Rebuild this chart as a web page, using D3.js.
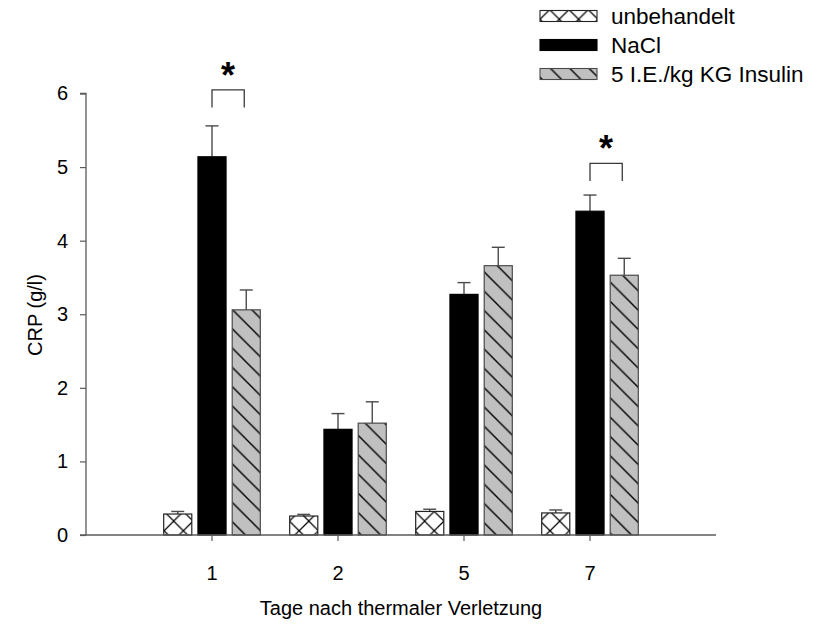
<!DOCTYPE html>
<html>
<head>
<meta charset="utf-8">
<script src="https://cdn.jsdelivr.net/npm/d3@7"></script>
<style>
  html, body { margin: 0; padding: 0; background: #fff; }
  svg { display: block; font-family: "Liberation Sans", Arial, sans-serif; }
</style>
</head>
<body>
<svg id="chart" width="819" height="625"></svg>
<script>
// Days after thermal injury
const days = ["1", "2", "5", "7"];
const seriesNames = ["unbehandelt", "NaCl", "5 I.E./kg KG Insulin"];
// CRP means (g/l) per series, one value per day
const untreated = [0.285, 0.258, 0.32, 0.30];
const nacl = [5.14, 1.436, 3.27, 4.40];
const insulin = [3.06, 1.52, 3.66, 3.53];
// Upper end of the error bars (mean + SEM)
const untreatedErr = [0.32, 0.28, 0.35, 0.34];
const naclErr = [5.56, 1.65, 3.43, 4.62];
const insulinErr = [3.33, 1.81, 3.91, 3.76];
const yTicks = [0, 1, 2, 3, 4, 5, 6];
// Significance brackets: day and bracket level
const sigDays = ["1", "7"];
const sigLevels = [6.05, 5.05];

const values = [untreated, nacl, insulin];
const errs = [untreatedErr, naclErr, insulinErr];

const svg = d3.select("#chart");
const axisColor = "#5a5a5a";
const fontSize = "20px";
const legendFontSize = "22.5px";

// Patterns
const defs = svg.append("defs");
const cross = defs.append("pattern").attr("id", "pat-cross")
  .attr("patternUnits", "userSpaceOnUse").attr("width", 19.3).attr("height", 19.3);
cross.append("rect").attr("width", 19.3).attr("height", 19.3).attr("fill", "#fff");
cross.append("path").attr("d", "M0,0L19.3,19.3M19.3,0L0,19.3")
  .attr("stroke", "#000").attr("stroke-width", 1.2);

const hatch = defs.append("pattern").attr("id", "pat-hatch")
  .attr("patternUnits", "userSpaceOnUse").attr("width", 19.3).attr("height", 19.3);
hatch.append("rect").attr("width", 19.3).attr("height", 19.3).attr("fill", "#c0c0c0");
hatch.append("path").attr("d", "M0,0L19.3,19.3M-2,17.3L2,21.3M17.3,-2L21.3,2")
  .attr("stroke", "#000").attr("stroke-width", 1.4);

const fills = ["url(#pat-cross)", "#000", "url(#pat-hatch)"];
const strokes = ["#222", "#000", "#4a4a4a"];

// Scales
const x = d3.scaleBand().domain(days).range([86, 716]).paddingInner(0).paddingOuter(0.5);
const xs = d3.scaleBand().domain(seriesNames).range([-48.3, 48.3]).paddingInner(0.18);
const y = d3.scaleLinear().domain([0, 6]).range([535, 93.5]);

// Bars
seriesNames.forEach((name, si) => {
  const g = svg.append("g");
  const rows = days.map((d, i) => ({ d, v: values[si][i], e: errs[si][i] }));
  const left = r => x(r.d) + x.bandwidth() / 2 + xs(name);
  const mid = r => left(r) + xs.bandwidth() / 2;
  // error bars (upper only)
  g.selectAll("line.stem").data(rows).join("line")
    .attr("x1", mid).attr("x2", mid)
    .attr("y1", r => y(r.v)).attr("y2", r => y(r.e))
    .attr("stroke", "#4a4a4a").attr("stroke-width", 1.4);
  g.selectAll("line.cap").data(rows).join("line")
    .attr("x1", r => mid(r) - 6.5).attr("x2", r => mid(r) + 6.5)
    .attr("y1", r => y(r.e)).attr("y2", r => y(r.e))
    .attr("stroke", "#4a4a4a").attr("stroke-width", 1.4);
  g.selectAll("rect").data(rows).join("rect")
    .attr("x", left).attr("width", xs.bandwidth())
    .attr("y", r => y(r.v)).attr("height", r => y(0) - y(r.v))
    .attr("fill", fills[si]).attr("stroke", strokes[si]).attr("stroke-width", 1.2);
});

// Axes
const yAxis = svg.append("g").attr("transform", "translate(86,0)")
  .call(d3.axisLeft(y).tickValues(yTicks).tickSize(6).tickPadding(12).tickFormat(d3.format("d")));
const xAxis = svg.append("g").attr("transform", "translate(0,535)")
  .call(d3.axisBottom(x).tickSize(6).tickSizeOuter(0).tickPadding(25));
[yAxis, xAxis].forEach(a => {
  a.attr("font-size", null).attr("font-family", null);
  a.select(".domain").attr("stroke", axisColor).attr("stroke-width", 1.3);
  a.selectAll(".tick line").attr("stroke", axisColor).attr("stroke-width", 1.2);
  a.selectAll(".tick text").attr("fill", "#000").style("font-size", fontSize)
    .style("font-family", "'Liberation Sans', Arial, sans-serif");
});
// y axis line from the top tick down to the baseline; x axis line reaches a bit left of it
yAxis.select(".domain").attr("d", `M-6,${y(6)}H0V${y(0)}`);
xAxis.select(".domain").attr("d", "M80,0H716");

// Axis titles
svg.append("text").attr("x", 401).attr("y", 615).attr("text-anchor", "middle")
  .style("font-size", fontSize).text("Tage nach thermaler Verletzung");
svg.append("text").attr("transform", "translate(42,315) rotate(-90)").attr("text-anchor", "middle")
  .style("font-size", fontSize).text("CRP (g/l)");

// Significance markers
sigDays.forEach((d, i) => {
  const x1 = x(d) + x.bandwidth() / 2 + xs("NaCl") + xs.bandwidth() / 2;
  const x2 = x(d) + x.bandwidth() / 2 + xs(seriesNames[2]) + xs.bandwidth() / 2 - 2;
  const top = y(sigLevels[i]);
  const bot = y(sigLevels[i] - 0.24);
  svg.append("path").attr("d", `M${x1},${bot}V${top}H${x2}V${bot}`)
    .attr("fill", "none").attr("stroke", "#3a3a3a").attr("stroke-width", 1.3);
  svg.append("text").attr("x", (x1 + x2) / 2).attr("y", top - 2)
    .attr("text-anchor", "middle").style("font-size", "36px").style("font-weight", "bold")
    .text("*");
});

// Legend
const legend = svg.append("g").attr("transform", "translate(540,0)");
const legendY = [16, 45, 74];
seriesNames.forEach((name, i) => {
  legend.append("rect").attr("x", 0).attr("y", legendY[i] - 5.5).attr("width", 57).attr("height", 11)
    .attr("fill", fills[i]).attr("stroke", strokes[i]).attr("stroke-width", 1.1);
  legend.append("text").attr("x", 71).attr("y", legendY[i]).attr("dy", "0.35em")
    .style("font-size", legendFontSize).text(name);
});
</script>
</body>
</html>
